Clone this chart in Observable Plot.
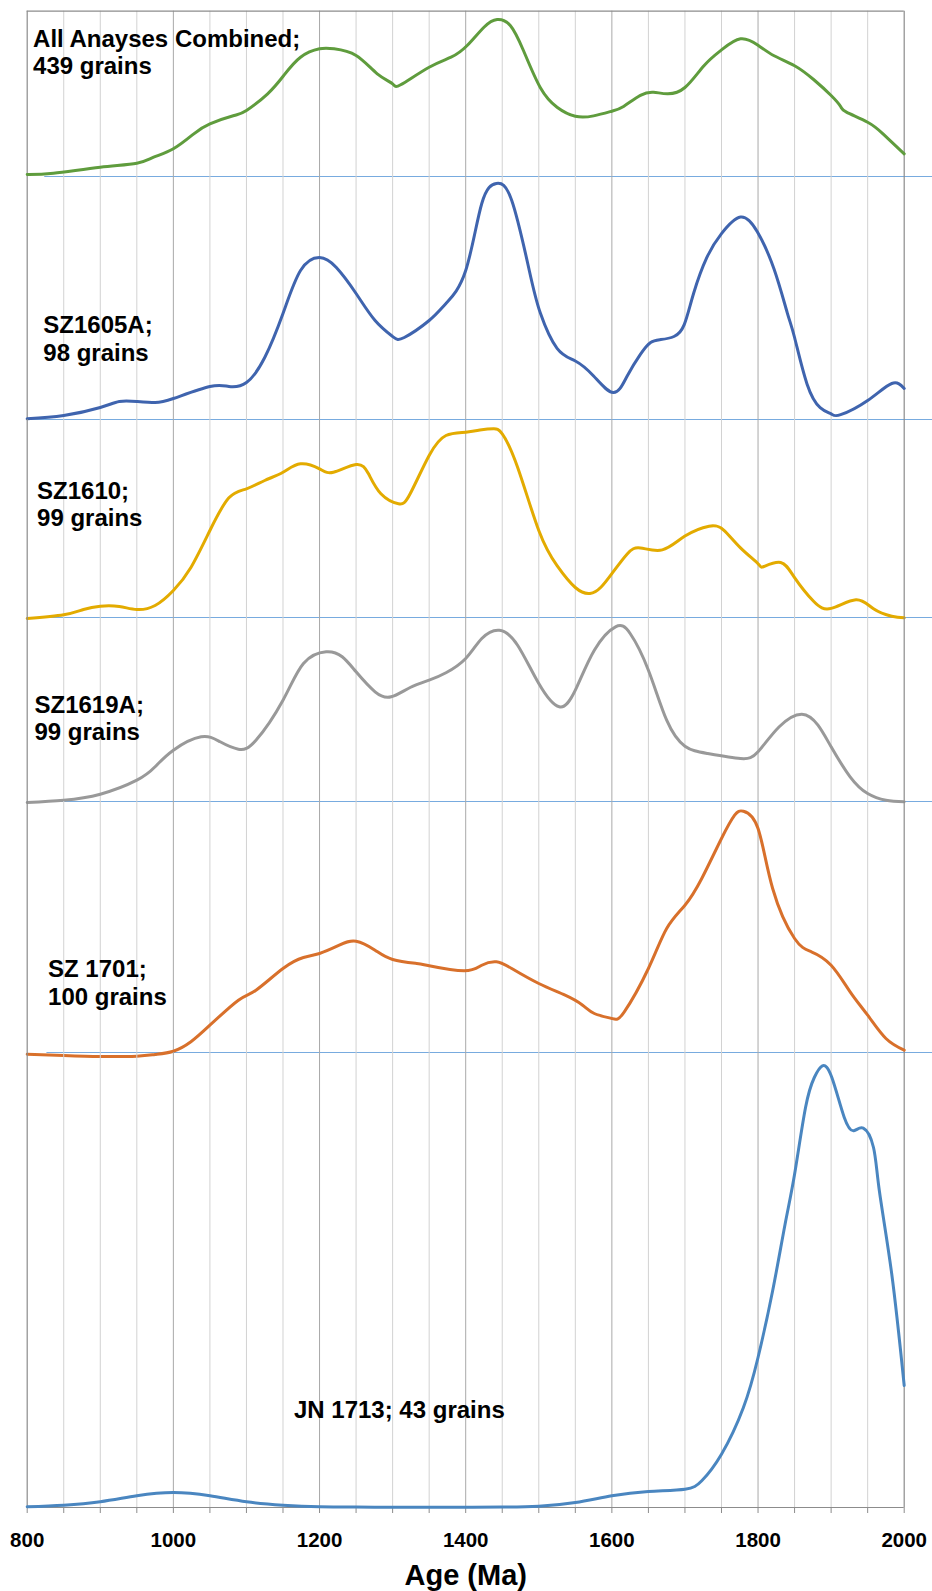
<!DOCTYPE html>
<html><head><meta charset="utf-8">
<script src="https://cdn.jsdelivr.net/npm/d3@7"></script>
<script src="https://cdn.jsdelivr.net/npm/@observablehq/plot@0.6"></script>
<style>
body{margin:0;background:#fff;}
#chart{width:932px;line-height:0;}
#chart svg{display:block;}
</style></head><body><div id="chart"></div>
<script>
// Relative probability curves (arbitrary units)
const ageCombined = [800,836,900,950,973,1000,1028,1050,1083,1100,1129,1151,1174,1200,1220,1250,1279,1300,1311,1350,1380,1402,1425,1443,1461,1479,1502,1525,1550,1575,1600,1616,1639,1657,1676,1700,1726,1750,1776,1800,1822,1850,1876,1900,1913,1921,1950,1971,2000];
const probCombined = [2,3.3,9.3,13.3,19.3,27.7,42.7,52.7,61,66,82.7,101,119.3,127.7,127.7,121,102.7,92.7,91.7,109.3,119.3,131,149.3,157,151,126,89,69.3,60.2,60.6,65.3,70.1,81.1,84.3,82.7,89,110.8,126.6,137.7,131.3,120.7,110.8,97,81,70,64.3,54.3,42.7,22.7];

const ageSZ1605A = [800,850,900,926,950,975,1000,1050,1076,1100,1125,1150,1174,1200,1223,1250,1276,1300,1316,1350,1373,1400,1422,1442,1463,1487,1502,1525,1550,1575,1602,1621,1639,1653,1667,1685,1699,1712,1730,1750,1776,1799,1822,1840,1850,1867,1885,1900,1913,1950,1983,2000];
const probSZ1605A = [0.7,4,12,18,18,17,21,33,33,37,62,106,149,162,152,126,99,83,82,99,116,149,216,236,219,149,106.7,71.2,58.5,43.5,26.9,43.5,65.2,77.1,79.9,83,94.9,126.5,162.1,185.8,202.4,187.8,150.2,106.7,82,35.6,11.9,5.6,4.8,19,36,31];

const ageSZ1610 = [800,850,877,900,926,950,975,1000,1024,1050,1076,1100,1125,1150,1174,1200,1219,1250,1267,1284,1308,1324,1350,1373,1400,1422,1438,1450,1471,1500,1525,1550,1570,1585,1600,1621,1639,1669,1700,1733,1753,1776,1800,1808,1831,1850,1876,1900,1934,1958,1983,2000];
const probSZ1610 = [-1,2.7,8,11.3,11,8,12,27,50,87,119.7,128.7,137,145.3,153.7,148.7,145.3,153,143.7,123.7,113.7,123.7,162,182,185.3,187.7,188.7,183.7,150.3,87,51.8,30,24.1,30.3,43.9,63.6,69.6,67.6,81.4,91.3,87.4,69.6,53.8,51,55,39.9,16.2,9.1,17.7,8.7,1.3,-0.3];

const ageSZ1619A = [800,850,900,950,975,1000,1038,1064,1089,1113,1150,1178,1209,1231,1250,1276,1298,1324,1350,1373,1400,1422,1446,1471,1500,1528,1550,1576,1605,1625,1650,1675,1700,1731,1776,1800,1829,1860,1882,1900,1926,1950,1975,2000];
const probSZ1619A = [-1,1.3,7.3,21.3,34.7,51.3,64.7,59.7,52.3,61.3,101.3,138,149.7,144.7,129.7,109.7,104.7,114,121.3,128.7,143,163,171.3,156.3,118,94.7,111.3,151.3,174.7,168,131.3,81.3,55.3,48,43,49.7,74.7,87.3,76.3,54.7,24.7,8,1.3,-0.3];

const ageSZ1701 = [800,850,900,950,975,1000,1024,1050,1089,1113,1150,1178,1200,1227,1250,1276,1300,1333,1350,1398,1422,1442,1463,1500,1536,1560,1576,1600,1617,1650,1675,1700,1723,1750,1768,1780,1800,1820,1850,1873,1900,1926,1950,1975,2000];
const probSZ1701 = [-1.7,-3,-4,-3.7,-2,1.3,10.7,27.3,52.3,62.3,84,95,99,107.3,111.3,102.3,93,89,86.7,81.7,87.3,90.7,84,69,57.3,47.3,39,34,40.7,84,124,147.3,174,214,237.3,241.3,224,164,114,100.7,87.3,60.7,37.3,14,2.3];

const ageJN1713 = [800,850,900,950,1000,1050,1100,1150,1200,1250,1300,1350,1400,1450,1500,1550,1600,1650,1700,1723,1750,1780,1800,1820,1837,1850,1865,1877,1888,1901,1918,1931,1944,1958,1966,1983,2000];
const probJN1713 = [0.7,2.3,5.7,11.7,15,11.7,5.7,2.3,0.7,0.4,0.3,0.3,0.3,0.4,1.3,5,11.7,16,18.3,26.7,53.3,100,150,216.7,283.3,333.3,400,430,441.7,430,390,376.7,379.3,360,316.7,233.3,122];

const sampleLabels = ["All Anayses Combined;\n439 grains", "SZ1605A;\n98 grains", "SZ1610;\n99 grains", "SZ1619A;\n99 grains", "SZ 1701;\n100 grains", "JN 1713; 43 grains"];
const sampleColors = ["#5f9c3d", "#3f64ae", "#e3ab00", "#999999", "#d8702b", "#4a86c0"];
const tickValues = [800, 1000, 1200, 1400, 1600, 1800, 2000];
const tickLabels = ["800", "1000", "1200", "1400", "1600", "1800", "2000"];
const axisTitle = "Age (Ma)";

const series = [
  [ageCombined, probCombined], [ageSZ1605A, probSZ1605A], [ageSZ1610, probSZ1610],
  [ageSZ1619A, probSZ1619A], [ageSZ1701, probSZ1701], [ageJN1713, probJN1713]
];

// Layout (panel heights in px, the y domain of each panel equals its plot height)
const layout = [
  {h: 176, top: 10.7, bottom: 0, base: 824, lx: 808, ly: 124.8},
  {h: 243, top: 0, bottom: 0, base: 800, lx: 822, ly: 81.6},
  {h: 198, top: 0, bottom: 0, base: 800, lx: 813.5, ly: 114},
  {h: 184, top: 0, bottom: 0, base: 800, lx: 810, ly: 84},
  {h: 251, top: 0, bottom: 0, base: 827, lx: 828.5, ly: 70.3},
  {h: 539, top: 0, bottom: 84, base: 800, lx: 1165, ly: 98.7}
];

const font = "'Liberation Sans', Arial, Helvetica, sans-serif";
const ticks50 = d3.range(800, 2001, 50);
const minor = ticks50.filter(d => d % 200 !== 0);
const major = [1000, 1200, 1400, 1600, 1800];
const frameColor = "#8c8c8c";
const labelSize = 24;
const container = document.getElementById("chart");

series.forEach(([ages, probs], i) => {
  const L = layout[i];
  const last = i === series.length - 1;
  const data = ages.map((a, j) => ({age: a, prob: probs[j]}));
  const ymax = L.h - L.top - L.bottom;
  const marks = [
    Plot.ruleX(minor, {stroke: "#d2d2d2", strokeWidth: 1}),
    Plot.ruleX(major, {stroke: "#a9a9a9", strokeWidth: 1}),
    Plot.ruleX([800, 2000], {stroke: frameColor, strokeWidth: 1.2})
  ];
  if (i === 0) marks.push(Plot.ruleY([ymax], {x1: 800, x2: 2000, stroke: frameColor, strokeWidth: 1.2}));
  if (!last) {
    marks.push(Plot.ruleY([0], {x1: L.base, x2: 2045, stroke: "#78abdf", strokeWidth: 1.2}));
  } else {
    marks.push(Plot.ruleY([0], {x1: 800, x2: 2000, stroke: frameColor, strokeWidth: 1.2}));
    marks.push(Plot.axisX(ticks50, {tickSize: 6, stroke: frameColor, tickFormat: () => "", label: null}));
    marks.push(Plot.axisX(tickValues, {tickSize: 0, tickPadding: 25, fontSize: 20.5, fontWeight: "bold", fill: "#000", tickFormat: (d) => tickLabels[tickValues.indexOf(d)], label: null}));
    marks.push(Plot.text([axisTitle], {x: 1400, y: 0, dy: 68, text: d => d, fontSize: 29, fontWeight: "bold", fill: "#000", lineAnchor: "middle", textAnchor: "middle"}));
  }
  marks.push(Plot.line(data, {x: "age", y: "prob", stroke: sampleColors[i], strokeWidth: 3, curve: "natural"}));
  marks.push(Plot.text([sampleLabels[i]], {x: L.lx, y: L.ly, text: d => d, textAnchor: "start", lineAnchor: "middle", fontSize: labelSize, fontWeight: "bold", fill: "#000", lineHeight: 27.7 / labelSize}));

  const chart = Plot.plot({
    width: 932,
    height: L.h,
    marginLeft: 26.7,
    marginRight: 932 - 903.7,
    marginTop: L.top,
    marginBottom: L.bottom,
    x: {domain: [800, 2000], axis: null, label: null},
    y: {domain: [0, ymax], axis: null, label: null},
    style: {background: "transparent", overflow: "visible", fontFamily: font},
    marks
  });
  container.appendChild(chart);
});
</script></body></html>
